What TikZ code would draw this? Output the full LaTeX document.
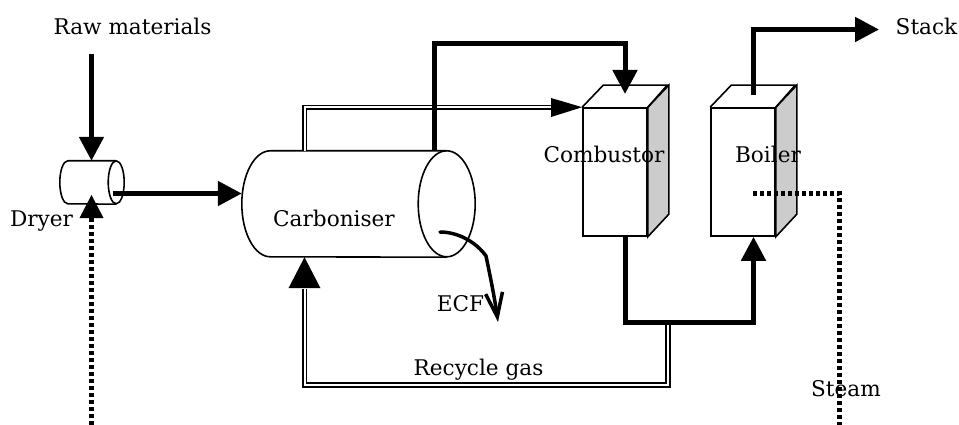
\documentclass[tikz,border=0pt]{standalone}
\usepackage{fontspec}
\setmainfont{DejaVu Serif}
\usetikzlibrary{arrows.meta}

\tikzset{
  label text/.style={font=\fontsize{21.6}{25}\selectfont,inner sep=0pt,anchor=base},
  unit line/.style={draw=black,line width=1.6pt},
  solid flow/.style={line width=5pt,-{Triangle[length=24pt,width=24pt]}},
  steam flow/.style={line width=5pt,dash pattern=on 4pt off 3pt},
  gas flow/.style={double=white,double distance=2pt,line width=1.7pt},
  front face/.style={unit line,fill=white,minimum width=64pt,minimum height=128pt,inner sep=0pt},
  drum/.style={inner sep=0pt},
}

\begin{document}
\begin{tikzpicture}[x=1pt,y=-1pt]
\useasboundingbox (0,0) rectangle (959,425);

% Vessels: the node is the body from the left edge to the centre of the end
\node[drum,minimum width=56pt,minimum height=43pt] (dryer) at (88,182.5) {};
\node[drum,minimum width=204.5pt,minimum height=106pt] (carboniser) at (344.25,204) {};
\node[front face] (combustor) at (615,172) {};
\node[front face] (boiler) at (743,172) {};

% Round ends of the drums
\foreach \unit/\rx/\ry in {dryer/8/21.5,carboniser/28.5/53} {
  \draw[unit line] (\unit.north east) arc (90:-270:\rx pt and \ry pt);
  \draw[unit line] (\unit.north east) -- ([xshift=\rx pt]\unit.north west)
    arc (90:270:\rx pt and \ry pt) -- (\unit.south east);
}

% Gray side and top of each box
\foreach \unit in {combustor,boiler} {
  \draw[unit line,fill=black!20] (\unit.north east) -- ++(21,-22) -- ++(0,129) -- (\unit.south east) -- cycle;
  \draw[unit line] (\unit.north west) -- ++(21,-22) -- ++(64,0) -- (\unit.north east);
}

% Points where the flows start, turn and end
\coordinate (raw) at (91.5,54);
\coordinate (dryerOut) at (113,193.5);
\coordinate (heatIn) at (91.5,425);
\coordinate (heatHead) at (91.5,218);
\coordinate (exitUp) at (434,43.5);
\coordinate (combDown) at (625,43.5);
\coordinate (combTop) at (625,94);
\coordinate (stackOut) at (753.5,95);
\coordinate (stackUp) at (753.5,29.5);
\coordinate (stackEnd) at (879,29.5);
\coordinate (ductLeft) at (625.5,322);
\coordinate (ductRight) at (753.5,322);
\coordinate (steamIn) at (753,193.5);
\coordinate (steamTurn) at (839.5,193.5);
\coordinate (steamOut) at (839.5,425);
\coordinate (gasTurn) at (304.5,107.5);
\coordinate (gasHead) at (552,107.5);
\coordinate (recOut) at (668,324);
\coordinate (recLow) at (668,385);
\coordinate (recLeft) at (304.5,385);
\coordinate (recHead) at (304.5,289);

% Gas lines, double
\draw[gas flow] (gasTurn |- carboniser.north) -- (gasTurn) -- (gasHead);
\fill (combustor.north west) -- (551,98) -- (551,117) -- cycle;
\draw[gas flow] (recOut) -- (recLow) -- (recLeft) -- (recHead);
\fill (recHead |- carboniser.south) -- ++(16,31) -- ++(-32,0) -- cycle;

% Solid flows
\draw[solid flow] (raw) -- (raw |- dryer.north);
\draw[solid flow] (dryerOut) -- (dryerOut -| carboniser.west);
\draw[solid flow] (exitUp |- carboniser.north) -- (exitUp) -- (combDown) -- (combTop);
\draw[solid flow] (stackOut) -- (stackUp) -- (stackEnd);
\draw[solid flow] (ductLeft |- combustor.south) -- (ductLeft) -- (ductRight) -- (ductRight |- boiler.south);

% Heat flows
\draw[steam flow] (heatIn) -- (heatHead);
\fill (91.5,195) -- (103.5,218) -- (79.5,218) -- cycle;
\draw[steam flow] (steamIn) -- (steamTurn) -- (steamOut);

% Char outlet
\draw[line width=3.5pt,line cap=round,line join=round,-{Straight Barb[length=24pt,width=17pt]}] (440,232) .. controls (458,232) and (476,242) .. (486,256) .. controls (490,275) and (495,300) .. (498,322);

% Labels
\node[label text] (rawLabel) at (132.5,35) {Raw materials};
\node[label text] (dryerLabel) at (41.5,226) {Dryer};
\node[label text] (carbLabel) at (334,226) {Carboniser};
\node[label text] (combLabel) at (604,163) {Combustor};
\node[label text] (boilLabel) at (768,163) {Boiler};
\node[label text] (stackLabel) at (926.5,35) {Stack};
\node[label text] (ecfLabel) at (460.5,311) {ECF};
\node[label text] (recLabel) at (478.5,375) {Recycle gas};
\node[label text] (steamLabel) at (846,396) {Steam};

\end{tikzpicture}
\end{document}
